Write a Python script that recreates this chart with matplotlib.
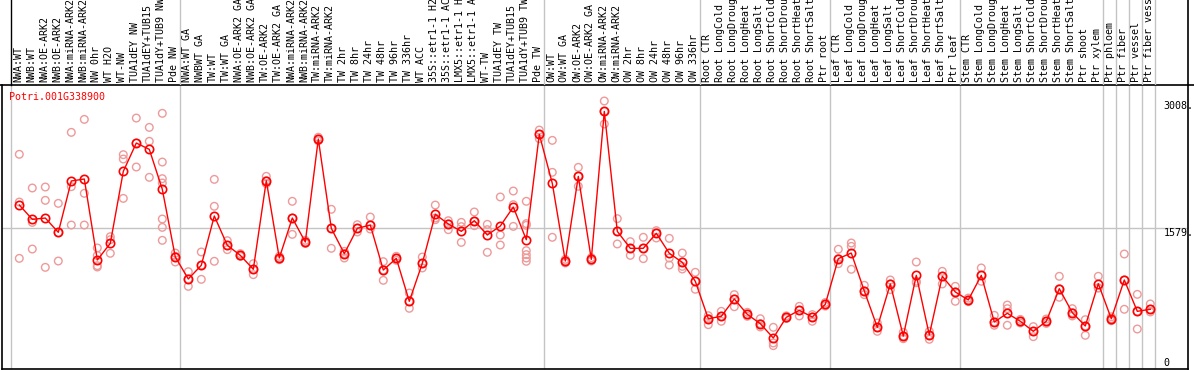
import matplotlib
matplotlib.use("Agg")
import matplotlib.pyplot as plt

# ---------------------------------------------------------------
# data
# ---------------------------------------------------------------
gene = "Potri.001G338900"

labels = [
    "NWA:WT", "NWB:WT", "NWA:OE-ARK2", "NWB:OE-ARK2", "NWA:miRNA-ARK2",
    "NWB:miRNA-ARK2", "NW 0hr", "WT H2O", "WT-NW", "TUA1dEY NW",
    "TUA1dEY+TUB15", "TUA1dY+TUB9 NW", "Pde NW",
    "NWA:WT GA", "NWBWT GA", "TW:WT", "TW:WT GA", "NWA:OE-ARK2 GA",
    "NWB:OE-ARK2 GA", "TW:OE-ARK2", "TW:OE-ARK2 GA", "NWA:miRNA-ARK2",
    "NWB:miRNA-ARK2", "TW:miRNA-ARK2", "TW:miRNA-ARK2", "TW 2hr", "TW 8hr",
    "TW 24hr", "TW 48hr", "TW 96hr", "TW 336hr", "WT ACC", "35S::etr1-1 H2",
    "35S::etr1-1 AC", "LMX5::etr1-1 H", "LMX5::etr1-1 A", "WT-TW",
    "TUA1dEY TW", "TUA1dEY+TUB15", "TUA1dY+TUB9 TW", "Pde TW",
    "OW:WT", "OW:WT GA", "OW:OE-ARK2", "OW:OE-ARK2 GA", "OW:miRNA-ARK2",
    "OW:miRNA-ARK2", "OW 2hr", "OW 8hr", "OW 24hr", "OW 48hr", "OW 96hr",
    "OW 336hr",
    "Root CTR", "Root LongCold", "Root LongDroug", "Root LongHeat",
    "Root LongSalt", "Root ShortCold", "Root ShortDrou", "Root ShortHeat",
    "Root ShortSalt", "Ptr root",
    "Leaf CTR", "Leaf LongCold", "Leaf LongDroug", "Leaf LongHeat",
    "Leaf LongSalt", "Leaf ShortCold", "Leaf ShortDrou", "Leaf ShortHeat",
    "Leaf ShortSalt", "Ptr leaf",
    "Stem CTR", "Stem LongCold", "Stem LongDroug", "Stem LongHeat",
    "Stem LongSalt", "Stem ShortCold", "Stem ShortDrou", "Stem ShortHeat",
    "Stem ShortSalt", "Ptr shoot", "Ptr xylem",
    "Ptr phloem", "Ptr fiber", "Ptr vessel", "Ptr fiber vess",
]

means = [
    1838, 1676, 1691, 1530, 2108, 2130, 1219, 1406, 2216, 2535,
    2464, 2014, 1252, 1005, 1159, 1714, 1384, 1271, 1114, 2111,
    1241, 1691, 1421, 2580, 1575, 1290, 1575, 1612, 1106, 1237,
    754, 1181, 1733, 1624, 1541, 1661, 1500, 1601, 1815, 1447,
    2633, 2081, 1207, 2160, 1226, 2891, 1541, 1350, 1350, 1519,
    1294, 1192, 979, 558, 585, 780, 607, 502, 341, 574,
    652, 577, 720, 1234, 1297, 870, 461, 949, 363, 1046,
    375, 1035, 859, 769, 1046, 521, 619, 529, 416, 529,
    896, 626, 476, 952, 558, 994, 641, 664,
]

replicates = [
    [2408, 1871, 1237], [2029, 1642, 1342], [2040, 1890, 1136],
    [1856, 1527, 1207], [2655, 2044, 1612], [2801, 1969, 1612],
    [1354, 1270, 1155, 1140], [1481, 1447, 1294], [2404, 2355, 1912],
    [2816, 2535, 2265], [2711, 2554, 2149],
    [2869, 2321, 2134, 2085, 1680, 1586, 1440], [1297, 1260, 1196],
    [1087, 1005, 922], [1309, 1159, 1001], [2126, 1823, 1204],
    [1436, 1384, 1335], [1290, 1271, 1260], [1177, 1114, 1054],
    [2160, 2111, 2078], [1260, 1241, 1222], [1879, 1691, 1507],
    [1440, 1421, 1405], [2600, 2580, 2560], [1789, 1575, 1350],
    [1316, 1290, 1241], [1616, 1575, 1534], [1702, 1612, 1567],
    [1200, 1106, 990], [1260, 1237, 1215], [847, 754, 675],
    [1252, 1181, 1129], [1837, 1691, 1672], [1661, 1624, 1560],
    [1642, 1594, 1417], [1759, 1654, 1605], [1620, 1560, 1305],
    [1928, 1500, 1387], [1995, 1841, 1597],
    [1879, 1628, 1609, 1324, 1279, 1241, 1204], [2681, 2633, 2584],
    [2565, 2205, 1474], [1226, 1207, 1185], [2261, 2160, 2048],
    [1245, 1226, 1207], [3008, 2891, 2749], [1684, 1541, 1399],
    [1425, 1350, 1271], [1474, 1350, 1234], [1549, 1519, 1466],
    [1462, 1241, 1162], [1297, 1147, 1117], [1080, 979, 889],
    [592, 558, 491], [641, 585, 529], [829, 780, 693], [630, 607, 585],
    [558, 502, 465], [461, 285, 255], [590, 574, 560], [697, 652, 589],
    [604, 577, 529], [740, 720, 700], [1339, 1234, 1177],
    [1410, 1372, 1114], [934, 870, 829], [510, 461, 416],
    [994, 949, 885], [405, 363, 333], [1196, 979, 963], [416, 375, 326],
    [1091, 1035, 949], [922, 859, 754], [790, 769, 750],
    [1129, 1046, 979], [596, 521, 484], [712, 671, 484], [550, 529, 510],
    [469, 416, 356], [555, 529, 505], [1035, 896, 799], [671, 626, 589],
    [547, 476, 371], [1035, 904, 904], [580, 558, 535], [1286, 994, 664],
    [832, 641, 442], [724, 664, 634],
]

# first column of each sample group (separator lines drawn before them)
group_starts = [0, 13, 41, 53, 63, 73, 84, 85, 86, 87, 88]

max_value = 3008
mid_value = 1579

# ---------------------------------------------------------------
# layout
# ---------------------------------------------------------------
W, H = 1194, 370
mono = "DejaVu Sans Mono"
fs = 7.2
sep_color = "#c4c4c4"

fig = plt.figure(figsize=(W / 100, H / 100), dpi=100)

x = list(range(len(means)))
x_lo, x_hi = -1.331, 89.9

# main plot
ax = fig.add_axes([2 / W, 1 / H, 1186 / W, 284 / H])
ax.set_xlim(x_lo, x_hi)
ax.set_ylim(-8, 3188)
ax.set_xticks([])
ax.set_yticks([])
for side in ["left", "bottom", "right"]:
    ax.spines[side].set_linewidth(1.2)
    ax.spines[side].set_color("black")
ax.spines["top"].set_visible(False)

for s in group_starts:
    ax.axvline(s - 0.615, color=sep_color, lw=1, zorder=1)
ax.axhline(mid_value, color=sep_color, lw=1, zorder=1)

rx, ry = [], []
for i, reps in enumerate(replicates):
    for r in reps:
        rx.append(i)
        ry.append(r)
ax.scatter(rx, ry, s=30, facecolors="none", edgecolors="#ee9a9a",
           linewidths=1, zorder=2)
ax.plot(x, means, color="red", lw=1, marker="o", mfc="none", mec="red",
        ms=6, mew=1.2, zorder=3)

ax.text(88.0, max_value, "3008.", family=mono, fontsize=fs,
        ha="left", va="top")
ax.text(88.0, mid_value, "1579.", family=mono, fontsize=fs,
        ha="left", va="top")
ax.text(88.0, 0, "0", family=mono, fontsize=fs, ha="left", va="bottom")

fig.text(9 / W, 1 - 97 / H, gene, family=mono, fontsize=fs,
         color="red", ha="left", va="center")

# header with rotated sample names
hx = fig.add_axes([0, (H - 85) / H, 1, 85 / H])
hx.set_xlim(-1.4846, 90.36)
hx.set_ylim(0, 85)
hx.axis("off")
hx.axhline(0, color="black", lw=1.2, clip_on=False)
hx.axvline(-0.645, color="black", lw=1, clip_on=False)
hx.axvline(x_hi, color="black", lw=1.2, clip_on=False)
for s in group_starts[1:]:
    hx.axvline(s - 0.615, color=sep_color, lw=1)

for i, lab in enumerate(labels):
    hx.text(i - 0.1, 2.5, lab, family=mono, fontsize=fs, rotation=90,
            ha="center", va="bottom")

fig.savefig("out.png", dpi=100)
